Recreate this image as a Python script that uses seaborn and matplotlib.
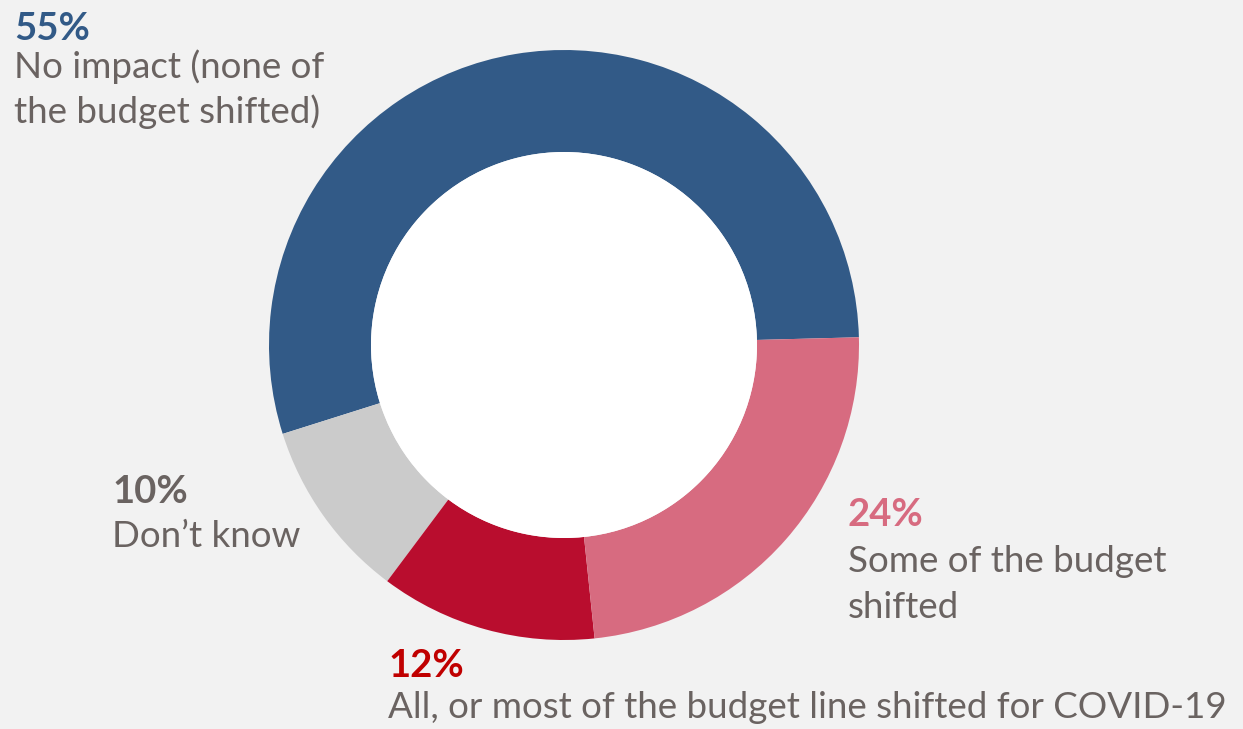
import matplotlib
matplotlib.use("Agg")
import matplotlib.pyplot as plt
from matplotlib.patches import Circle
import seaborn as sns

# Survey shares (percent) and labels, in drawing order (counter-clockwise from 3 o'clock)
categories = [
    "No impact (none of\nthe budget shifted)",
    "Don\u2019t know",
    "All, or most of the budget line shifted for COVID-19",
    "Some of the budget\nshifted",
]
shares = [55, 10, 12, 24]
pct_labels = ["55%", "10%", "12%", "24%"]

slice_colors = ["#325a87", "#cbcbcb", "#b90d2e", "#d76b80"]
pct_colors = ["#325a87", "#6a6361", "#c00000", "#d76b80"]
text_gray = "#6a6361"

sns.set_theme(style="white")
plt.rcParams["font.family"] = ["Lato", "DejaVu Sans"]

W, H = 1243, 729
fig = plt.figure(figsize=(W / 100, H / 100), dpi=100, facecolor="#f2f2f2")
ax = fig.add_axes([0, 0, 1, 1])
ax.set_facecolor("#f2f2f2")

cx, cy = 564, H - 345
r_out, r_in = 295, 193

ax.pie(shares, colors=slice_colors, startangle=1.5, counterclock=True,
       center=(cx, cy), radius=r_out, frame=True,
       wedgeprops=dict(width=r_out - r_in, linewidth=0))
ax.set_xlim(0, W)
ax.set_ylim(0, H)
ax.set_aspect("equal")
ax.axis("off")
ax.add_patch(Circle((cx, cy), r_in, facecolor="white", edgecolor="none", zorder=5))

# label anchors: left x, baseline of the percent line, baseline of each text line
anchors = [
    (14, 40, [78, 123]),
    (112, 503, [547]),
    (388, 677, [718]),
    (848, 526, [572, 618]),
]

pct_size = 27.5
txt_size = 26.5
for (x, pct_base, line_bases), label, pct, pcol in zip(anchors, categories, pct_labels, pct_colors):
    ax.text(x, H - pct_base, pct, color=pcol, fontsize=pct_size, fontweight="bold",
            ha="left", va="baseline")
    for line, base in zip(label.split("\n"), line_bases):
        ax.text(x, H - base, line, color=text_gray, fontsize=txt_size,
                ha="left", va="baseline")

fig.savefig("out.png", dpi=100, facecolor=fig.get_facecolor())
